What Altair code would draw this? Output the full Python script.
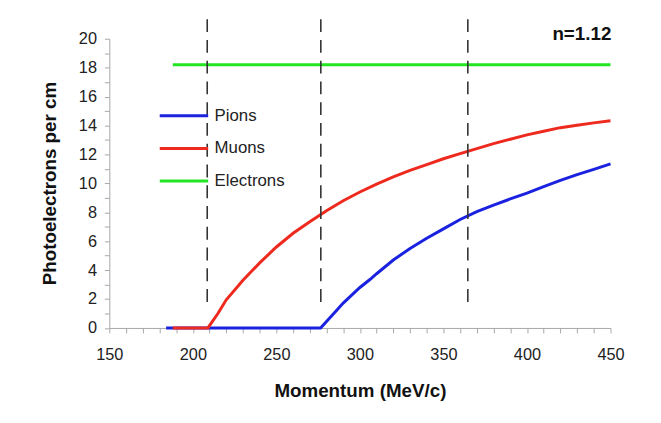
import altair as alt
import pandas as pd

# ---- data ----
series_names = ["Pions", "Muons", "Electrons"]
series_colors = ["#1a22e0", "#ee2a1e", "#22e622"]

momentum_pions = [184, 276.5, 280, 286, 290, 300, 306, 310, 320, 330, 340, 350,
                  360, 370, 380, 390, 400, 410, 420, 430, 440, 450]
pe_pions = [0, 0, 0.45, 1.2, 1.72, 2.8, 3.35, 3.75, 4.7, 5.5, 6.2, 6.85,
            7.5, 8.05, 8.5, 8.92, 9.33, 9.78, 10.2, 10.6, 10.97, 11.35]

momentum_muons = [188, 209, 215, 220, 230, 240, 250, 260, 270, 280, 290, 300,
                  310, 320, 330, 340, 350, 360, 370, 380, 390, 400, 410, 420,
                  430, 440, 450]
pe_muons = [0, 0, 1.0, 1.95, 3.3, 4.5, 5.6, 6.55, 7.35, 8.1, 8.8, 9.4,
            9.95, 10.45, 10.9, 11.3, 11.7, 12.05, 12.4, 12.75, 13.05, 13.35, 13.6, 13.85,
            14.02, 14.18, 14.33]

momentum_electrons = [188, 450]
pe_electrons = [18.2, 18.2]

threshold_momenta = [208.6, 276.6, 364.6]
threshold_low = 1.8
threshold_high = 21.7

annotation_text = ["n=1.12"]
annotation_x = [450.5]
annotation_y = [20.3]

x_ticks = list(range(150, 451, 10))
y_ticks = list(range(0, 21, 1))

FONT = "Liberation Sans"

# ---- tables ----
def table(name, xs, ys):
    return pd.DataFrame({"series": name, "momentum": xs, "pe": ys, "order": list(range(len(xs)))})

df_pi = table("Pions", momentum_pions, pe_pions)
df_mu = table("Muons", momentum_muons, pe_muons)
df_e = table("Electrons", momentum_electrons, pe_electrons)
df_thr = pd.DataFrame({"momentum": threshold_momenta,
                       "pe": [threshold_low] * len(threshold_momenta),
                       "hi": [threshold_high] * len(threshold_momenta)})
df_txt = pd.DataFrame({"momentum": annotation_x, "pe": annotation_y, "label": annotation_text})

x_scale = alt.Scale(domain=[150, 450], nice=False, zero=False)
y_scale = alt.Scale(domain=[0, 20], nice=False)

x_axis = alt.Axis(values=x_ticks,
                  labelExpr="datum.value % 50 == 0 ? format(datum.value, 'd') : ''",
                  labelOverlap=False, labelFlush=False,
                  tickSize=5, labelPadding=14,
                  titleY=63, titleBaseline="middle", titleFontSize=19)
y_axis = alt.Axis(values=y_ticks,
                  labelExpr="datum.value % 2 == 0 ? format(datum.value, 'd') : ''",
                  labelOverlap=False, labelFlush=False,
                  tickSize=5, labelPadding=8,
                  titleX=-60, titleY=146, titleAngle=270,
                  titleAlign="center", titleBaseline="middle", titleFontSize=19)

x_enc = alt.X("momentum:Q", scale=x_scale, axis=x_axis, title="Momentum (MeV/c)")
y_enc = alt.Y("pe:Q", scale=y_scale, axis=y_axis, title="Photoelectrons per cm")

color_enc = alt.Color("series:N",
                      scale=alt.Scale(domain=series_names, range=series_colors),
                      legend=alt.Legend(orient="none", legendX=49.5, legendY=68,
                                        title=None, symbolType="stroke",
                                        symbolSize=2401, symbolStrokeWidth=3,
                                        clipHeight=20, rowPadding=13,
                                        labelFontSize=17, labelOffset=5,
                                        labelFont=FONT, labelColor="#222",
                                        padding=0))

def line_layer(df):
    return alt.Chart(df).mark_line(strokeWidth=3).encode(
        x=x_enc, y=y_enc, color=color_enc, order="order:Q")

rules = alt.Chart(df_thr).mark_rule(color="#333333", strokeWidth=1.6,
                                    strokeDash=[13, 8], clip=False).encode(
    x=x_enc, y=y_enc, y2="hi:Q")

label = alt.Chart(df_txt).mark_text(align="right", baseline="middle", fontSize=19,
                                     fontWeight="bold", font=FONT, color="#111").encode(
    x=x_enc, y=y_enc, text="label:N")

chart = alt.layer(
    line_layer(df_pi), line_layer(df_mu), line_layer(df_e), rules, label
).properties(
    width=507, height=292.6,
    autosize=alt.AutoSizeParams(type="none"),
    padding={"left": 102.5, "top": 28.7, "right": 43, "bottom": 90},
).configure_view(stroke=None).configure_axis(
    grid=False,
    domainColor="#a8a8a8", tickColor="#a8a8a8",
    labelFont=FONT, labelFontSize=16.5, labelColor="#222",
    titleFont=FONT, titleFontWeight="bold", titleColor="#111",
)

chart.save("out.html", embed_options={"renderer": "svg", "actions": False})
